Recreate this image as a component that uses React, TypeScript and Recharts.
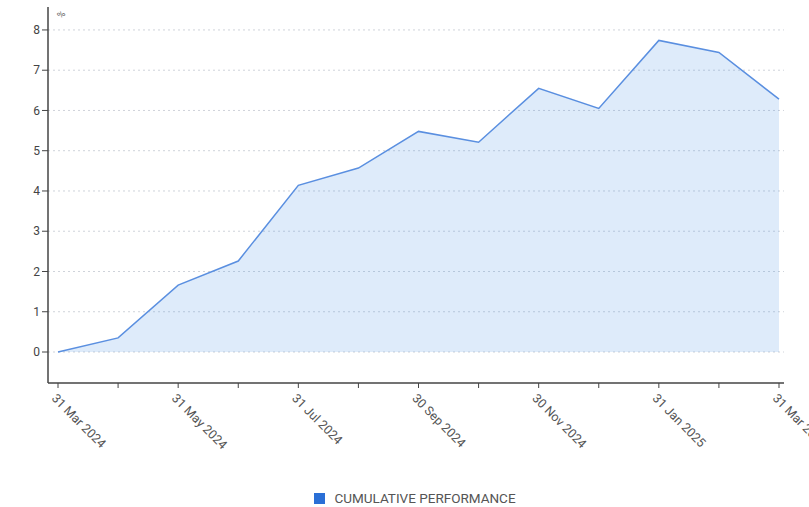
import { AreaChart, Area, XAxis, YAxis, CartesianGrid, Legend } from 'recharts'

const months = [
  '31 Mar 2024', '30 Apr 2024', '31 May 2024', '30 Jun 2024', '31 Jul 2024',
  '31 Aug 2024', '30 Sep 2024', '31 Oct 2024', '30 Nov 2024', '31 Dec 2024',
  '31 Jan 2025', '28 Feb 2025', '31 Mar 2025',
]
const cumulative = [0, 0.35, 1.66, 2.26, 4.14, 4.57, 5.48, 5.21, 6.55, 6.05, 7.74, 7.44, 6.28]
const yTicks = [0, 1, 2, 3, 4, 5, 6, 7, 8]
const seriesName = 'CUMULATIVE PERFORMANCE'

const data = months.map((m, i) => ({ date: m, value: cumulative[i] }))

const FONT = 'Roboto, "Noto Sans", sans-serif'

function DateTick(props: any) {
  const { x, y, payload, index } = props
  if (index % 2 !== 0) return null
  return (
    <g transform={`translate(${x - 4},${y + 6})`}>
      <text
        x={0}
        y={0}
        dy="0.35em"
        transform="rotate(45)"
        textAnchor="start"
        fontSize={12.5}
        fontFamily={FONT}
        fill="#555"
      >
        {payload.value}
      </text>
    </g>
  )
}

function LegendContent() {
  return (
    <div style={{ height: 18, paddingLeft: 38, display: 'flex', justifyContent: 'center', alignItems: 'center', fontFamily: FONT, fontSize: 13.5, color: '#555' }}>
      <span style={{ display: 'inline-block', width: 11, height: 11, background: '#2a6fd6', marginRight: 9 }} />
      {seriesName}
    </div>
  )
}

export default function App() {
  return (
    <div style={{ position: 'absolute', left: 0, top: 0, background: '#fff' }}>
      <AreaChart width={809} height={507} data={data} margin={{ top: 7, right: 25, left: 8, bottom: 0 }}>
        <CartesianGrid
          vertical={false}
          horizontalValues={yTicks}
          stroke="#cfd3da"
          strokeDasharray="2 3"
        />
        <XAxis
          dataKey="date"
          interval={0}
          tick={<DateTick />}
          tickLine={{ stroke: '#444' }}
          tickSize={5}
          axisLine={{ stroke: '#444', strokeWidth: 1.5 }}
          padding={{ left: 10, right: 5 }}
          height={106}
        />
        <YAxis
          width={40}
          domain={[-0.77, 8.57]}
          ticks={yTicks}
          allowDataOverflow
          tick={{ fontSize: 12, fill: '#444', fontFamily: FONT }}
          tickLine={{ stroke: '#444' }}
          tickSize={6}
          axisLine={{ stroke: '#444', strokeWidth: 1.5 }}
          label={{
            content: (p: any) => {
              const vb = p.viewBox || { x: 8, y: 7, width: 40 }
              return (
                <text
                  x={vb.x + vb.width + 10}
                  y={vb.y + 11}
                  fontSize={9.5}
                  fill="#666"
                  fontFamily={FONT}
                  transform={`rotate(-45 ${vb.x + vb.width + 13} ${vb.y + 8})`}
                >
                  %
                </text>
              )
            },
          }}
        />
        <Legend verticalAlign="bottom" content={<LegendContent />} />
        <Area
          type="linear"
          dataKey="value"
          name={seriesName}
          stroke="#5a8fe0"
          strokeWidth={1.5}
          fill="#4a90e2"
          fillOpacity={0.18}
          baseValue={0}
          dot={false}
          activeDot={false}
          isAnimationActive={false}
        />
      </AreaChart>
    </div>
  )
}
